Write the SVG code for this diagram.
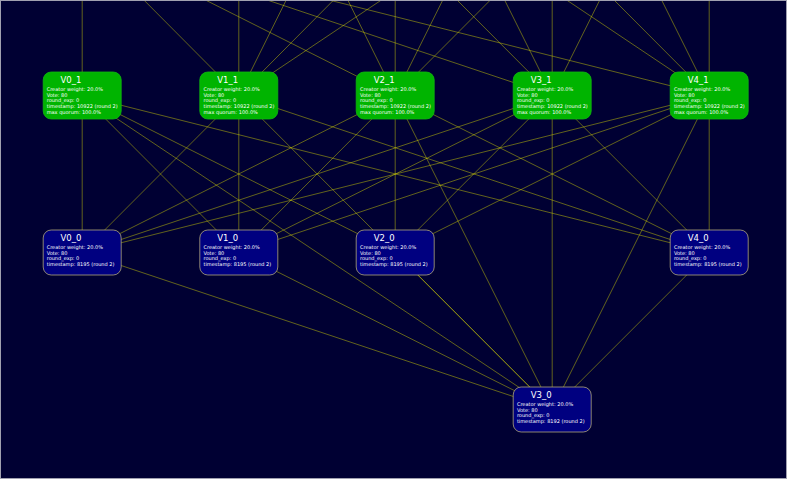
<svg xmlns="http://www.w3.org/2000/svg" width="787" height="479" viewBox="0 0 787 479">
<style>
.e{stroke:#e6e600;stroke-opacity:0.48;stroke-width:0.9;fill:none}
.g{fill:#00b400;stroke:#10b810;stroke-width:0.8}
.b{fill:#000080;stroke:#b0a67a;stroke-width:0.8}
.t{font-family:"DejaVu Sans",sans-serif;font-size:8.5px;fill:#ffffff}
.d{font-family:"DejaVu Sans",sans-serif;font-size:5px;fill:#ffffff}
</style>
<rect x="0" y="0" width="787" height="479" fill="#000033"/>
<g id="connectors">
<path class="e" d="M82.2,95.5L82.2,-62"/>
<path class="e" d="M238.8,95.5L82.2,-62"/>
<path class="e" d="M238.8,95.5L238.8,-62"/>
<path class="e" d="M238.8,95.5L395.2,-219.5"/>
<path class="e" d="M238.8,95.5L395.2,-62"/>
<path class="e" d="M238.8,95.5L709.2,-219.5"/>
<path class="e" d="M395.2,95.5L82.2,-62"/>
<path class="e" d="M395.2,95.5L238.8,-219.5"/>
<path class="e" d="M395.2,95.5L395.2,-62"/>
<path class="e" d="M395.2,95.5L552.2,-219.5"/>
<path class="e" d="M395.2,95.5L552.2,-62"/>
<path class="e" d="M552.2,95.5L82.2,-62"/>
<path class="e" d="M552.2,95.5L395.2,-62"/>
<path class="e" d="M552.2,95.5L395.2,-219.5"/>
<path class="e" d="M552.2,95.5L552.2,-62"/>
<path class="e" d="M552.2,95.5L709.2,-219.5"/>
<path class="e" d="M709.2,95.5L82.2,-62"/>
<path class="e" d="M709.2,95.5L238.8,-219.5"/>
<path class="e" d="M709.2,95.5L552.2,-62"/>
<path class="e" d="M709.2,95.5L552.2,-219.5"/>
<path class="e" d="M709.2,95.5L709.2,-62"/>
<path class="e" d="M82.2,95.5L82.2,252.5M82.2,95.5L238.8,252.5M82.2,95.5L395.2,252.5M82.2,95.5L709.2,252.5M82.2,95.5L552.2,409.5"/>
<path class="e" d="M238.8,95.5L82.2,252.5M238.8,95.5L238.8,252.5M238.8,95.5L709.2,252.5M238.8,95.5L552.2,409.5"/>
<path class="e" d="M395.2,95.5L82.2,252.5M395.2,95.5L238.8,252.5M395.2,95.5L395.2,252.5M395.2,95.5L709.2,252.5M395.2,95.5L552.2,409.5"/>
<path class="e" d="M552.2,95.5L82.2,252.5M552.2,95.5L238.8,252.5M552.2,95.5L395.2,252.5M552.2,95.5L709.2,252.5M552.2,95.5L552.2,409.5"/>
<path class="e" d="M709.2,95.5L82.2,252.5M709.2,95.5L238.8,252.5M709.2,95.5L395.2,252.5M709.2,95.5L709.2,252.5M709.2,95.5L552.2,409.5"/>
<path class="e" d="M82.2,252.5L552.2,409.5M238.8,252.5L552.2,409.5M395.2,252.5L552.2,409.5M709.2,252.5L552.2,409.5"/>
</g>
<g id="V0_1"><rect class="g" x="43.2" y="72" width="78" height="47" rx="8"/><text class="t" x="60.5" y="83">V0_1</text><text class="d" x="46.7" y="91">Creator weight: 20.0%</text><text class="d" x="46.7" y="96.7">Vote: 80</text><text class="d" x="46.7" y="102.4">round_exp: 0</text><text class="d" x="46.7" y="108.1">timestamp: 10922 (round 2)</text><text class="d" x="46.7" y="113.8">max quorum: 100.0%</text></g>
<g id="V1_1"><rect class="g" x="199.8" y="72" width="78" height="47" rx="8"/><text class="t" x="217.3" y="83">V1_1</text><text class="d" x="203.5" y="91">Creator weight: 20.0%</text><text class="d" x="203.5" y="96.7">Vote: 80</text><text class="d" x="203.5" y="102.4">round_exp: 0</text><text class="d" x="203.5" y="108.1">timestamp: 10922 (round 2)</text><text class="d" x="203.5" y="113.8">max quorum: 100.0%</text></g>
<g id="V2_1"><rect class="g" x="356.2" y="72" width="78" height="47" rx="8"/><text class="t" x="373.8" y="83">V2_1</text><text class="d" x="360" y="91">Creator weight: 20.0%</text><text class="d" x="360" y="96.7">Vote: 80</text><text class="d" x="360" y="102.4">round_exp: 0</text><text class="d" x="360" y="108.1">timestamp: 10922 (round 2)</text><text class="d" x="360" y="113.8">max quorum: 100.0%</text></g>
<g id="V3_1"><rect class="g" x="513.2" y="72" width="78" height="47" rx="8"/><text class="t" x="530.7" y="83">V3_1</text><text class="d" x="516.9" y="91">Creator weight: 20.0%</text><text class="d" x="516.9" y="96.7">Vote: 80</text><text class="d" x="516.9" y="102.4">round_exp: 0</text><text class="d" x="516.9" y="108.1">timestamp: 10922 (round 2)</text><text class="d" x="516.9" y="113.8">max quorum: 100.0%</text></g>
<g id="V4_1"><rect class="g" x="670.2" y="72" width="78" height="47" rx="8"/><text class="t" x="687.7" y="83">V4_1</text><text class="d" x="673.9" y="91">Creator weight: 20.0%</text><text class="d" x="673.9" y="96.7">Vote: 80</text><text class="d" x="673.9" y="102.4">round_exp: 0</text><text class="d" x="673.9" y="108.1">timestamp: 10922 (round 2)</text><text class="d" x="673.9" y="113.8">max quorum: 100.0%</text></g>
<g id="V0_0"><rect class="b" x="43.2" y="230" width="78" height="45" rx="8"/><text class="t" x="60.5" y="241">V0_0</text><text class="d" x="46.7" y="249">Creator weight: 20.0%</text><text class="d" x="46.7" y="254.7">Vote: 80</text><text class="d" x="46.7" y="260.4">round_exp: 0</text><text class="d" x="46.7" y="266.1">timestamp: 8195 (round 2)</text></g>
<g id="V1_0"><rect class="b" x="199.8" y="230" width="78" height="45" rx="8"/><text class="t" x="217.3" y="241">V1_0</text><text class="d" x="203.5" y="249">Creator weight: 20.0%</text><text class="d" x="203.5" y="254.7">Vote: 80</text><text class="d" x="203.5" y="260.4">round_exp: 0</text><text class="d" x="203.5" y="266.1">timestamp: 8195 (round 2)</text></g>
<g id="V2_0"><rect class="b" x="356.2" y="230" width="78" height="45" rx="8"/><text class="t" x="373.8" y="241">V2_0</text><text class="d" x="360" y="249">Creator weight: 20.0%</text><text class="d" x="360" y="254.7">Vote: 80</text><text class="d" x="360" y="260.4">round_exp: 0</text><text class="d" x="360" y="266.1">timestamp: 8195 (round 2)</text></g>
<g id="V4_0"><rect class="b" x="670.2" y="230" width="78" height="45" rx="8"/><text class="t" x="687.7" y="241">V4_0</text><text class="d" x="673.9" y="249">Creator weight: 20.0%</text><text class="d" x="673.9" y="254.7">Vote: 80</text><text class="d" x="673.9" y="260.4">round_exp: 0</text><text class="d" x="673.9" y="266.1">timestamp: 8195 (round 2)</text></g>
<g id="V3_0"><rect class="b" x="513.2" y="387" width="78" height="45" rx="8"/><text class="t" x="530.7" y="398">V3_0</text><text class="d" x="516.9" y="406">Creator weight: 20.0%</text><text class="d" x="516.9" y="411.7">Vote: 80</text><text class="d" x="516.9" y="417.4">round_exp: 0</text><text class="d" x="516.9" y="423.1">timestamp: 8192 (round 2)</text></g>
<rect x="0.5" y="0.5" width="786" height="478" fill="none" stroke="#a0a0b0" stroke-width="1"/>
</svg>
